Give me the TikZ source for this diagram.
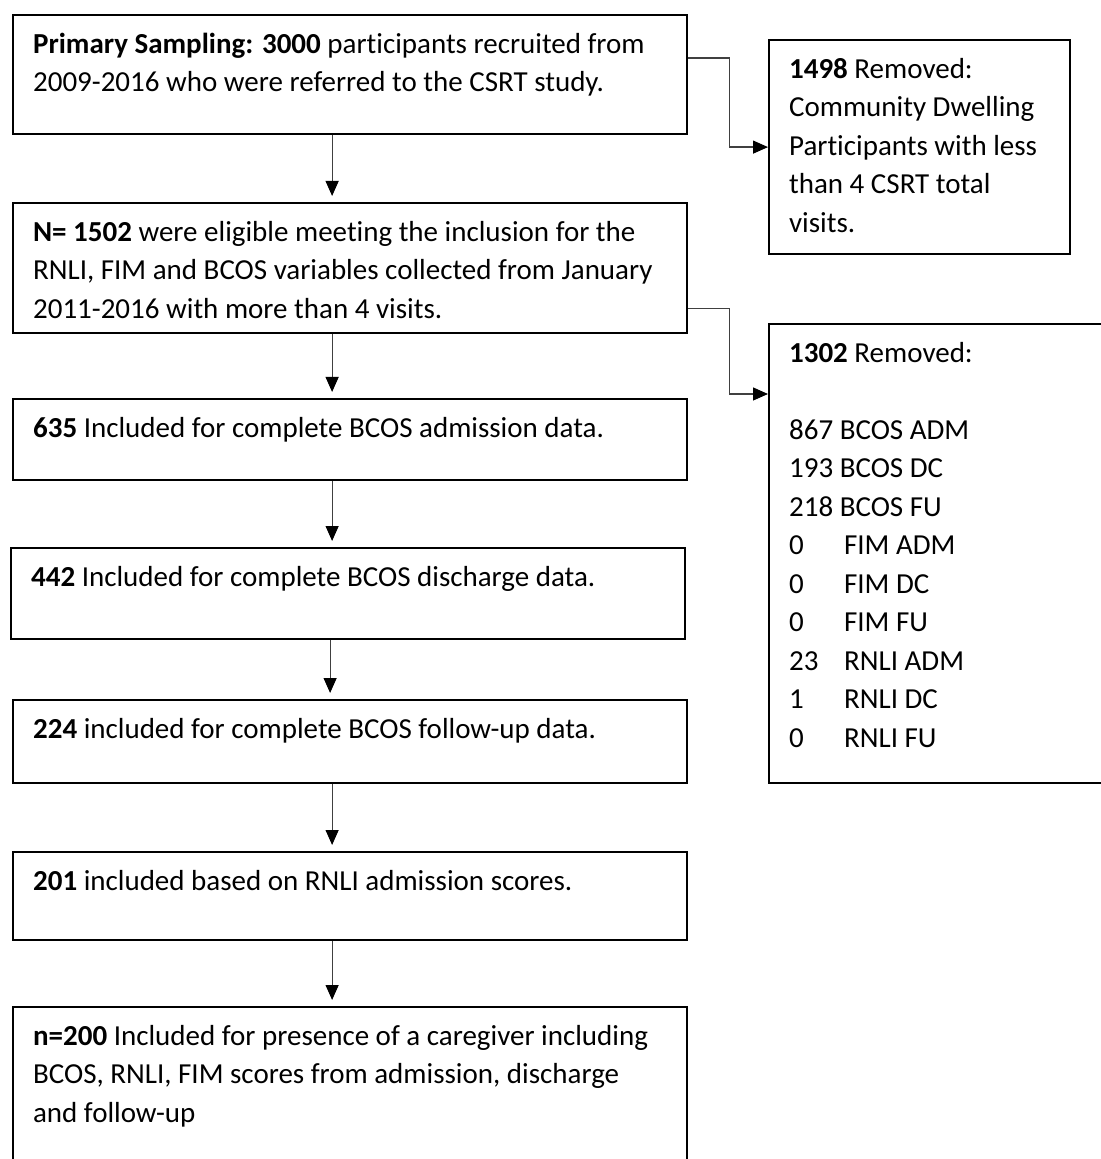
\documentclass[tikz,border=0pt]{standalone}
\usepackage{fontspec}
\setmainfont{Carlito}[Ligatures=NoCommon]
\usetikzlibrary{arrows.meta}
\newcommand{\boxtxt}[3]{\parbox[t][#1][t]{#2}{\raggedright\strut#3}}
\newcommand{\cnt}[1]{\makebox[27.5pt][l]{#1}}

\begin{document}
\begin{tikzpicture}[x=.5pt,y=-.5pt,
  stage/.style={draw,line width=1.1pt,anchor=north west,inner xsep=10pt,inner ysep=5.5pt,
    font=\fontsize{14.5pt}{19.25pt}\selectfont},
  flow/.style={draw=black!75,line width=.6pt,-{Triangle[length=7.5pt,width=6.5pt,black]},shorten >=3pt},
  side/.style={draw=black!75,line width=.6pt,-{Triangle[length=7.5pt,width=6.5pt,black]}}]
\useasboundingbox (0,0) rectangle (1100,1159);
\node[stage] (b1) at (12,14) {\boxtxt{48.5pt}{317pt}{\textbf{Primary Sampling: 3000} participants recruited from\\2009-2016 who were referred to the CSRT study.}};
\node[stage] (b2) at (12,202) {\boxtxt{54pt}{317pt}{\textbf{N= 1502} were eligible meeting the inclusion for the\\RNLI, FIM and BCOS variables collected from January\\2011-2016 with more than 4 visits.}};
\node[stage] (b3) at (12,398) {\boxtxt{29.5pt}{317pt}{\textbf{635} Included for complete BCOS admission data.}};
\node[stage] (b4) at (10,547) {\boxtxt{34.5pt}{317pt}{\textbf{442} Included for complete BCOS discharge data.}};
\node[stage] (b5) at (12,699) {\boxtxt{30.5pt}{317pt}{\textbf{224} included for complete BCOS follow-up data.}};
\node[stage] (b6) at (12,851) {\boxtxt{33pt}{317pt}{\textbf{201} included based on RNLI admission scores.}};
\node[stage] (b7) at (12,1006) {\boxtxt{67pt}{317pt}{\textbf{n=200} Included for presence of a caregiver including\\BCOS, RNLI, FIM scores from admission, discharge\\and follow-up}};
% removed participants
\node[stage] (r1) at (768,39) {\boxtxt{96pt}{130.5pt}{\textbf{1498} Removed:\\Community Dwelling\\Participants with less\\than 4 CSRT total\\visits.}};
\node[stage] (r2) at (768,323) {\boxtxt{218.5pt}{148pt}{\textbf{1302} Removed:\\[19.25pt]867 BCOS ADM\\193 BCOS DC\\218 BCOS FU\\\cnt{0}FIM ADM\\\cnt{0}FIM DC\\\cnt{0}FIM FU\\\cnt{23}RNLI ADM\\\cnt{1}RNLI DC\\\cnt{0}RNLI FU}};
\foreach \a/\b in {b1/b2,b2/b3,b3/b4,b4/b5,b5/b6,b6/b7}
  \draw[flow] ([xshift=-9pt]\a.south) -- ([xshift=-9pt]\a.south |- \b.north);
\draw[side] ([yshift=-22pt]b1.north east) -- ++(41,0) |- (r1.west);
\draw[side] ([yshift=13pt]b2.south east) -- ++(41,0) |- ([yshift=-35.5pt]r2.north west);
\end{tikzpicture}
\end{document}
